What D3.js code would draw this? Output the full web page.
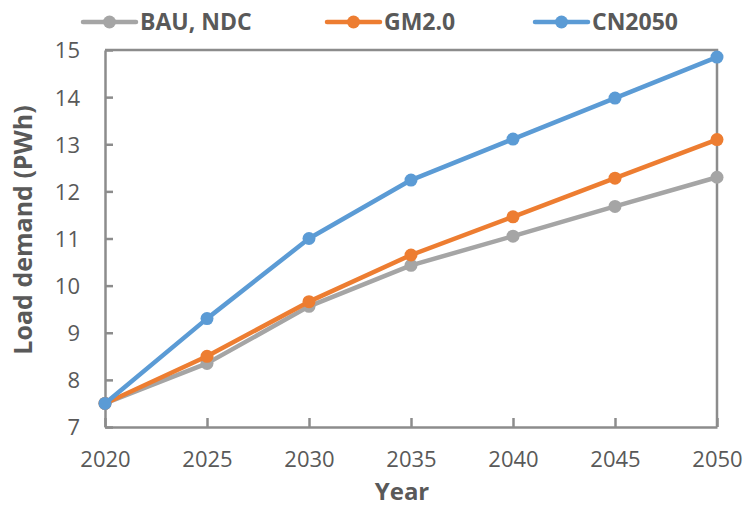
<!DOCTYPE html>
<html>
<head>
<meta charset="utf-8">
<script src="https://cdn.jsdelivr.net/npm/d3@7"></script>
<style>
	body { margin: 0; background: #fff; }
	svg text { font-family: "Open Sans", "Noto Sans", sans-serif; fill: #595959; }
</style>
</head>
<body>
<div id="chart"></div>
<script>
var years = [2020, 2025, 2030, 2035, 2040, 2045, 2050];
var seriesNames = ["BAU, NDC", "GM2.0", "CN2050"];
var bau = [7.5, 8.35, 9.56, 10.43, 11.05, 11.68, 12.3];
var gm = [7.5, 8.5, 9.66, 10.65, 11.46, 12.28, 13.1];
var cn = [7.5, 9.3, 11.0, 12.24, 13.11, 13.98, 14.85];
var yTicks = [7, 8, 9, 10, 11, 12, 13, 14, 15];
var colors = ["#a5a5a5", "#ed7d31", "#5b9bd5"];

var width = 747,
	height = 508;

var margin = { top: 50, right: 30, bottom: 81, left: 105 };
var axisColor = "#8c8c8c";

var svg = d3.select("#chart").append("svg")
	.attr("width", width)
	.attr("height", height);

var xScale = d3.scaleLinear().domain([2020, 2050]).range([margin.left, 717]);
var yScale = d3.scaleLinear().domain([7, 15]).range([height - margin.bottom, margin.top]);

// frame (top + right)
svg.append("path")
	.attr("d", "M" + xScale(2020) + "," + yScale(15) + "H" + xScale(2050) + "V" + yScale(7))
	.attr("fill", "none")
	.attr("stroke", axisColor)
	.attr("stroke-width", 2.5);

var xAxis = d3.axisBottom(xScale).tickValues(years).tickFormat(d3.format("d")).tickSizeInner(-9).tickSizeOuter(0).tickPadding(24);
var yAxis = d3.axisLeft(yScale).tickValues(yTicks).tickSizeInner(-8).tickSizeOuter(0).tickPadding(25);

var gx = svg.append("g")
	.attr("transform", "translate(0," + yScale(7) + ")")
	.call(xAxis);
var gy = svg.append("g")
	.attr("transform", "translate(" + xScale(2020) + ",0)")
	.call(yAxis);

[gx, gy].forEach(function(g) {
	g.select(".domain").attr("stroke", axisColor).attr("stroke-width", 2.5);
	g.selectAll(".tick line").attr("stroke", axisColor).attr("stroke-width", 2.5);
	g.selectAll(".tick text").style("font-size", "22px").attr("fill", "#595959");
});
gy.selectAll(".tick text").attr("dy", "0.36em");

// axis titles
svg.append("text")
	.attr("x", 402)
	.attr("y", 500)
	.attr("text-anchor", "middle")
	.style("font-size", "24px")
	.style("font-weight", "bold")
	.text("Year");

svg.append("text")
	.attr("transform", "translate(32," + 230 + ") rotate(-90)")
	.attr("text-anchor", "middle")
	.style("font-size", "25px")
	.style("font-weight", "bold")
	.text("Load demand (PWh)");

var data = [bau, gm, cn];

var line = d3.line()
	.x(function(d, i) { return xScale(years[i]); })
	.y(function(d) { return yScale(d); });

data.forEach(function(vals, k) {
	var g = svg.append("g");
	g.append("path")
		.attr("d", line(vals))
		.attr("fill", "none")
		.attr("stroke", colors[k])
		.attr("stroke-width", 4.5)
		.attr("stroke-linejoin", "round");
	g.selectAll("circle")
		.data(vals)
		.enter()
		.append("circle")
		.attr("cx", function(d, i) { return xScale(years[i]); })
		.attr("cy", function(d) { return yScale(d); })
		.attr("r", 6.5)
		.attr("fill", colors[k]);
});

// legend
var legendX = [83, 327, 535];
var legend = svg.selectAll(".legend")
	.data(seriesNames)
	.enter()
	.append("g")
	.attr("class", "legend")
	.attr("transform", function(d, i) { return "translate(" + legendX[i] + ",22)"; });

legend.append("line")
	.attr("x1", 0).attr("x2", 53)
	.attr("stroke", function(d, i) { return colors[i]; })
	.attr("stroke-width", 4.5)
	.attr("stroke-linecap", "round");
legend.append("circle")
	.attr("cx", 26.5)
	.attr("r", 6.5)
	.attr("fill", function(d, i) { return colors[i]; });
legend.append("text")
	.attr("x", 57)
	.attr("dy", "0.36em")
	.style("font-size", "23px")
	.style("font-weight", "bold")
	.text(function(d) { return d; });
</script>
</body>
</html>
